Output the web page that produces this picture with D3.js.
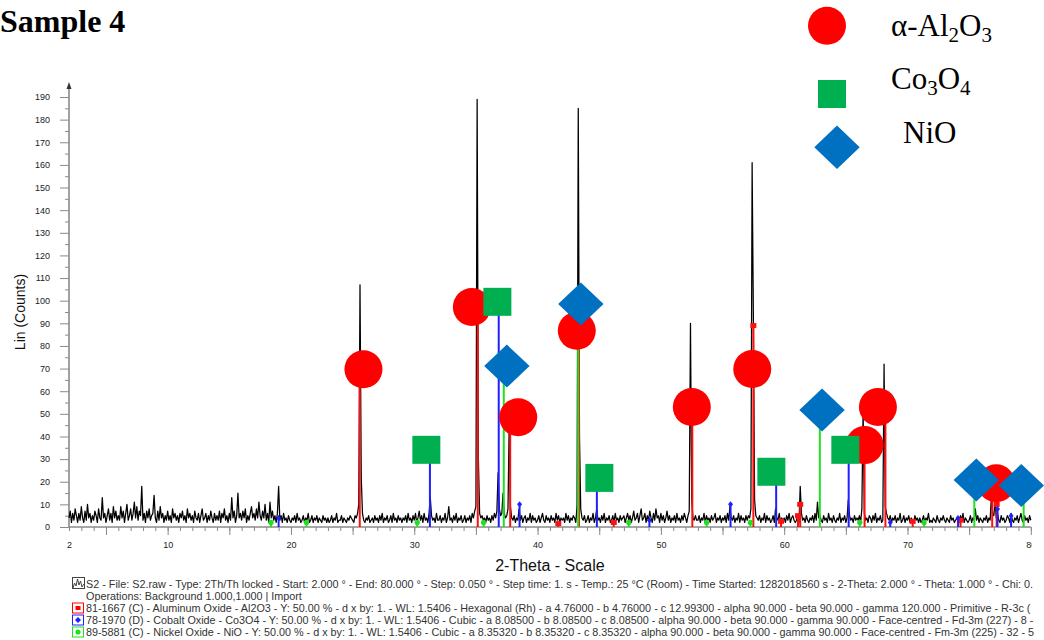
<!DOCTYPE html>
<html><head><meta charset="utf-8">
<script src="https://cdn.jsdelivr.net/npm/d3@7"></script>
<style>body{margin:0;background:#fff}svg{display:block}</style></head>
<body><svg id="c" width="1044" height="640"></svg>
<script>
// ---------- DATA ----------
const scanStart = 2, scanStep = 0.1;   // 2-Theta start / step (deg)
// Lin (Counts), one row per degree (2.0 .. 2.9, 3.0 .. 3.9, ...)
const counts = [
  4,7,2,6,3,8,5,2,6,3,
  9,4,2,7,3,10,4,6,2,5,
  3,7,5,2,8,4,3,13,4,6,
  2,5,8,3,6,2,9,4,7,3,
  5,3,9,4,7,2,6,10,3,5,
  8,3,6,11,4,9,3,7,5,18,
  3,6,2,7,4,8,3,5,6,14,
  4,2,7,3,9,4,6,2,5,3,
  7,3,5,2,8,4,6,3,5,2,
  6,4,7,3,5,2,8,4,6,3,
  5,2,7,4,3,6,2,5,8,3,
  4,6,2,5,3,7,4,2,6,3,
  5,3,7,2,6,4,8,3,5,2,
  6,3,13,4,7,2,5,15,4,6,
  3,7,4,8,2,5,3,6,9,4,
  6,3,8,4,11,5,3,7,4,10,
  3,6,2,11,4,7,3,5,2,6,
  18,3,5,2,6,3,4,2,5,3,
  2,4,3,5,2,6,3,4,2,3,
  5,2,4,3,6,2,3,5,2,4,
  3,5,2,4,3,2,5,3,4,2,
  4,2,3,5,2,4,3,6,2,3,
  3,5,2,4,3,2,4,3,5,4,
  3,2,5,4,6,10,107,22,6,3,
  2,4,3,5,2,3,4,2,5,3,
  4,2,5,3,6,2,4,3,5,2,
  3,5,2,6,3,4,2,5,3,4,
  2,4,3,5,2,6,3,4,2,5,
  3,6,2,4,7,3,5,2,6,3,
  4,2,6,13,5,3,4,2,6,3,
  3,5,2,4,3,6,2,4,9,3,
  4,2,5,3,6,2,4,3,5,2,
  3,5,2,4,3,5,2,6,4,7,
  9,189,30,6,4,5,3,4,2,5,
  3,4,2,5,3,6,4,7,24,8,
  5,6,15,6,4,5,8,46,9,4,
  3,5,2,4,3,8,3,5,2,4,
  5,2,4,3,6,2,5,3,4,2,
  3,5,2,4,6,3,2,5,3,4,
  2,5,3,4,2,6,3,5,2,4,
  3,4,2,6,3,5,2,4,3,5,
  4,2,9,185,40,8,4,3,5,2,
  3,5,2,4,3,6,2,4,8,3,
  4,2,5,3,6,2,4,3,5,2,
  3,5,2,6,3,4,2,5,3,4,
  5,2,4,6,3,5,2,4,7,3,
  4,6,2,5,8,3,4,6,2,5,
  3,7,4,2,6,3,8,4,5,2,
  6,3,5,2,4,7,3,5,2,4,
  3,5,2,6,3,4,2,5,3,6,
  4,2,5,7,90,12,4,3,5,3,
  3,5,2,4,3,6,2,5,3,4,
  2,5,3,4,6,2,4,3,5,2,
  4,3,5,2,6,3,9,4,3,5,
  2,4,3,6,2,5,3,4,2,5,
  3,5,4,8,161,93,12,5,4,3,
  5,2,4,3,6,2,5,3,4,2,
  3,5,2,8,4,3,6,2,4,3,
  4,2,5,3,6,2,4,5,3,2,
  3,5,2,18,6,3,4,2,5,3,
  2,4,3,5,2,6,3,11,4,5,
  3,2,5,3,4,2,6,3,4,2,
  5,3,2,4,3,6,2,4,3,5,
  2,4,12,5,3,4,2,5,3,4,
  3,5,2,8,52,6,3,4,2,5,
  4,2,5,3,6,2,4,3,5,2,
  3,72,9,6,4,3,5,2,4,3,
  5,2,4,3,6,2,3,5,2,4,
  3,5,2,4,3,2,5,3,4,2,
  4,2,3,5,2,4,3,6,2,3,
  2,4,3,2,5,3,2,4,3,5,
  3,2,4,3,2,5,3,4,2,3,
  4,3,2,5,3,6,2,4,3,2,
  3,5,2,4,3,8,3,5,2,4,
  3,2,4,3,5,2,4,3,13,6,
  5,11,4,6,3,2,5,3,4,2,
  3,5,4,2,6,3,2,4,3,5,
  2,4,6,3,2,5,3,4,2,5,
  3
];

// Reference stick patterns [2-Theta, height]
const al2o3Sticks = [[25.58,70],[35.15,97],[37.78,48],[41.68,1.5],[43.36,87],[46.18,2],[52.55,53],[57.50,89],[59.74,2.5],[61.12,5],[61.30,10],[66.52,36],[68.21,53],[70.42,2.5],[74.30,3],[76.87,13],[77.23,10]];
const co3o4Sticks = [[19.00,4],[31.27,34],[36.85,99],[38.54,10],[44.81,22],[49.07,3],[55.65,10],[59.35,24],[65.23,34],[68.60,2],[74.10,4],[77.30,8],[78.40,5]];
const nioSticks   = [[18.38,2],[21.26,2],[30.24,2],[35.62,2],[37.26,71],[43.29,98],[47.40,2],[53.71,2],[57.26,2],[62.89,52],[66.13,2],[71.35,2],[75.42,21],[79.42,18]];

// Phase markers placed on the pattern [2-Theta, counts]
const al2o3Marks = [[25.88,69.7],[34.67,97.2],[38.43,48.5],[43.18,86.7],[52.51,53],[57.41,69.8],[66.52,36.2],[67.60,53],[77.20,19.3]];
const co3o4Marks = [[30.98,34.1],[36.74,99.5],[45.01,21.7],[58.96,24.4],[64.96,34.1]];
const nioMarks   = [[37.51,71.1],[43.51,98.5],[63.07,51.7],[75.58,20.8],[79.23,18.3]];

const xTickLabels = [2,10,20,30,40,50,60,70,80];
const yTickLabels = [0,10,20,30,40,50,60,70,80,90,100,110,120,130,140,150,160,170,180,190];

const titleText = "Sample 4";
const xTitle = "2-Theta - Scale";
const yTitle = "Lin (Counts)";
const footerLines = [
  "S2 - File: S2.raw - Type: 2Th/Th locked - Start: 2.000 ° - End: 80.000 ° - Step: 0.050 ° - Step time: 1. s - Temp.: 25 °C (Room) - Time Started: 1282018560 s - 2-Theta: 2.000 ° - Theta: 1.000 ° - Chi: 0.",
  "Operations: Background 1.000,1.000 | Import",
  "81-1667 (C) - Aluminum Oxide - Al2O3 - Y: 50.00 % - d x by: 1. - WL: 1.5406 - Hexagonal (Rh) - a 4.76000 - b 4.76000 - c 12.99300 - alpha 90.000 - beta 90.000 - gamma 120.000 - Primitive - R-3c (",
  "78-1970 (D) - Cobalt Oxide - Co3O4 - Y: 50.00 % - d x by: 1. - WL: 1.5406 - Cubic - a 8.08500 - b 8.08500 - c 8.08500 - alpha 90.000 - beta 90.000 - gamma 90.000 - Face-centred - Fd-3m (227) - 8 -",
  "89-5881 (C) - Nickel Oxide - NiO - Y: 50.00 % - d x by: 1. - WL: 1.5406 - Cubic - a 8.35320 - b 8.35320 - c 8.35320 - alpha 90.000 - beta 90.000 - gamma 90.000 - Face-centred - Fm-3m (225) - 32 - 5"
];

// ---------- DRAW ----------
const svg = d3.select("#c");
const x = d3.scaleLinear().domain([2,80]).range([69,1030.8]);
const y = d3.scaleLinear().domain([0,190]).range([527,97]);
const sans = "'Liberation Sans', Arial, sans-serif";
const serif = "'Liberation Serif', 'Times New Roman', serif";
const RED = "#ff0000", GRN = "#00b050", BLU = "#0070c0";

const defs = svg.append("defs");
defs.append("clipPath").attr("id","clipR")
  .append("rect").attr("x",0).attr("y",0).attr("width",1032).attr("height",640);

// axes
const axCol = "#8a8a8a";
const gx = svg.append("g").attr("transform",`translate(0,${y(0)})`);
gx.append("g").call(d3.axisBottom(x).tickValues(d3.range(2,81,1)).tickSize(4).tickFormat(""));
gx.append("g").call(d3.axisBottom(x).tickValues(d3.range(5,81,5)).tickSize(8).tickFormat(""));
const gxl = gx.append("g").attr("clip-path","url(#clipR)")
  .call(d3.axisBottom(x).tickValues(xTickLabels).tickSize(0).tickPadding(15).tickFormat(d3.format("d")));
gx.selectAll(".domain").remove();
gx.selectAll(".tick line").attr("stroke",axCol).attr("stroke-width",1);
gxl.selectAll("text").attr("font-family",sans).attr("font-size",9).attr("fill","#222");
gx.append("line").attr("x1",x(2)).attr("x2",x(80)).attr("y1",0).attr("y2",0).attr("stroke",axCol).attr("stroke-width",1.6);

const gy = svg.append("g").attr("transform",`translate(${x(2)},0)`);
gy.append("g").call(d3.axisLeft(y).tickValues(d3.range(5,191,10)).tickSize(4).tickFormat(""));
const gyl = gy.append("g").call(d3.axisLeft(y).tickValues(yTickLabels).tickSize(9).tickPadding(10).tickFormat(d3.format("d")));
gy.selectAll(".domain").remove();
gy.selectAll(".tick line").attr("stroke",axCol).attr("stroke-width",1);
gyl.selectAll("text").attr("font-family",sans).attr("font-size",9).attr("fill","#222");
gy.append("line").attr("x1",0).attr("x2",0).attr("y1",y(0)).attr("y2",86).attr("stroke",axCol).attr("stroke-width",1.6);
gy.append("path").attr("d","M-2.5,89 L0,82 L2.5,89 Z").attr("fill","#333");

// titles
svg.append("text").attr("x",x(2)+(x(80)-x(2))/2).attr("y",571).attr("text-anchor","middle")
  .attr("font-family",sans).attr("font-size",16).attr("fill","#111").text(xTitle);
svg.append("text").attr("transform",`translate(25,${y(95)}) rotate(-90)`).attr("text-anchor","middle")
  .attr("font-family",sans).attr("font-size",14).attr("fill","#111").text(yTitle);
svg.append("text").attr("x",0).attr("y",32).attr("font-family",serif).attr("font-weight","bold")
  .attr("font-size",32).attr("fill","#000").text(titleText);

// pattern
const pts = counts.map((c,i)=>[scanStart+i*scanStep, c]);
svg.append("path").datum(pts)
  .attr("d", d3.line().x(d=>x(d[0])).y(d=>y(d[1])))
  .attr("fill","none").attr("stroke","#000").attr("stroke-width",1.25).attr("stroke-linejoin","round");

// sticks
function sticks(data, col, shape){
  const g = svg.append("g");
  g.selectAll("line").data(data).join("line")
    .attr("x1",d=>x(d[0])).attr("x2",d=>x(d[0])).attr("y1",y(0)).attr("y2",d=>y(d[1]))
    .attr("stroke",col).attr("stroke-width",2);
  g.selectAll("path").data(data).join("path")
    .attr("transform",d=>`translate(${x(d[0])},${y(d[1])})`)
    .attr("d", shape).attr("fill",col);
}
sticks(al2o3Sticks, "#ff1010", "M-3,-2.5H3V2.5H-3Z");
sticks(co3o4Sticks, "#2020ff", "M0,-3L2.5,0L0,3L-2.5,0Z");
sticks(nioSticks,   "#20e020", d3.symbol(d3.symbolCircle, 22)());

// big markers
svg.append("g").selectAll("circle").data(al2o3Marks).join("circle")
  .attr("cx",d=>x(d[0])).attr("cy",d=>y(d[1])).attr("r",19).attr("fill",RED);
svg.append("g").selectAll("rect").data(co3o4Marks).join("rect")
  .attr("x",d=>x(d[0])-14).attr("y",d=>y(d[1])-14).attr("width",28).attr("height",28).attr("fill",GRN);
svg.append("g").selectAll("path").data(nioMarks).join("path")
  .attr("transform",d=>`translate(${x(d[0])},${y(d[1])})`)
  .attr("d","M0,-21.5L22.7,0L0,21.5L-22.7,0Z").attr("fill",BLU);

// legend
const lg = svg.append("g");
lg.append("circle").attr("cx",827).attr("cy",25.7).attr("r",19).attr("fill",RED);
lg.append("rect").attr("x",818).attr("y",80).attr("width",28).attr("height",28).attr("fill",GRN);
lg.append("path").attr("transform","translate(837,147.3)").attr("d","M0,-21.7L22.7,0L0,21.7L-22.7,0Z").attr("fill",BLU);
function chem(xp, yp, parts){
  const t = lg.append("text").attr("x",xp).attr("y",yp).attr("font-family",serif).attr("font-size",31).attr("fill","#000");
  let sub=false;
  parts.forEach(p=>{
    const isSub = /^[0-9]$/.test(p);
    const ts = t.append("tspan").text(p);
    if(isSub){ ts.attr("font-size",21).attr("dy",6); sub=true; }
    else if(sub){ ts.attr("dy",-6); sub=false; }
  });
}
chem(891, 36, ["α-Al","2","O","3"]);
chem(891, 89, ["Co","3","O","4"]);
chem(903, 143, ["NiO"]);

// footer
const fg = svg.append("g");
const fy = [588, 600, 612, 624, 636];
footerLines.forEach((s,i)=>{
  fg.append("text").attr("x",86).attr("y",fy[i]).attr("font-family",sans).attr("font-size",10.8)
    .attr("fill","#333").text(s);
});
// icons
const ic = fg.append("g");
ic.append("rect").attr("x",72.5).attr("y",577.5).attr("width",12).attr("height",11).attr("fill","#fff").attr("stroke","#444");
ic.append("path").attr("d","M73,588 L74.5,583 L76,586 L77.5,579 L79,585 L80.5,581 L82,587 L84,584").attr("fill","none").attr("stroke","#444");
const icCols = [["#ff0000","sq"],["#2020ff","di"],["#20e020","ci"]];
icCols.forEach((c,i)=>{
  const cy = fy[i+2]-4;
  ic.append("rect").attr("x",72.5).attr("y",cy-5).attr("width",11).attr("height",10).attr("fill","#fff").attr("stroke",c[0]).attr("stroke-width",1);
  if(c[1]==="sq") ic.append("rect").attr("x",75.5).attr("y",cy-2).attr("width",5).attr("height",4).attr("fill",c[0]);
  if(c[1]==="di") ic.append("path").attr("d",`M78,${cy-3}L81,${cy}L78,${cy+3}L75,${cy}Z`).attr("fill",c[0]);
  if(c[1]==="ci") ic.append("circle").attr("cx",78).attr("cy",cy).attr("r",2.6).attr("fill",c[0]);
});
</script>
</body></html>
